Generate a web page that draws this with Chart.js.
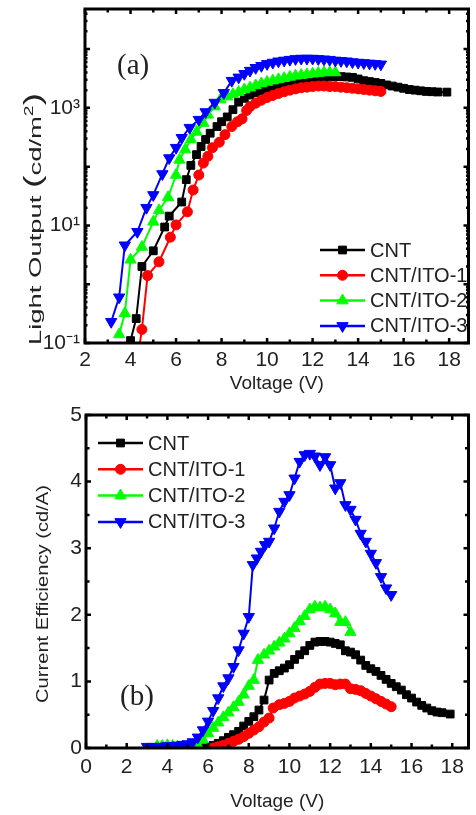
<!DOCTYPE html>
<html>
<head>
<meta charset="utf-8">
<script src="https://cdn.jsdelivr.net/npm/chart.js@4.4.1/dist/chart.umd.min.js"></script>
<style>
  body { margin: 0; background: #fff; width: 476px; height: 815px; overflow: hidden; position: relative; }
  canvas { position: absolute; left: 0; }
  #chartA { top: 0; }
  #chartB { top: 400px; }
</style>
</head>
<body>
<canvas id="chartA" width="476" height="400"></canvas>
<canvas id="chartB" width="476" height="415"></canvas>
<script>
// series names (same for both panels)
const seriesNames = ['CNT', 'CNT/ITO-1', 'CNT/ITO-2', 'CNT/ITO-3'];

// (a) light output, cd/m2
const voltA_cnt = [4.0, 4.25, 4.5, 5.0, 5.5, 5.7, 6.25, 6.45, 6.65, 6.9, 7.1, 7.3, 7.5, 7.8, 8.0, 8.25, 8.5, 8.75, 9.0, 9.25, 9.5, 9.75, 10.0, 10.25, 10.5, 10.75, 11.0, 11.25, 11.5, 11.75, 12.0, 12.25, 12.5, 12.75, 13.0, 13.25, 13.5, 13.75, 14.0, 14.25, 14.5, 14.75, 15.0, 15.25, 15.5, 15.75, 16.0, 16.25, 16.5, 16.75, 17.0, 17.25, 17.5, 17.9];
const lumA_cnt = [0.11, 0.26, 2.0, 3.7, 9.4, 14.4, 25, 60, 105, 160, 220, 290, 370, 480, 580, 700, 930, 1250, 1450, 1650, 1800, 1950, 2100, 2250, 2400, 2550, 2650, 2750, 2900, 3000, 3100, 3200, 3300, 3350, 3400, 3400, 3350, 3300, 3100, 2900, 2800, 2700, 2600, 2450, 2350, 2250, 2150, 2050, 2000, 1950, 1900, 1880, 1860, 1850];

const voltA_ito1 = [4.3, 4.5, 4.75, 5.25, 5.75, 6.0, 6.5, 6.75, 7.0, 7.2, 7.4, 7.6, 7.9, 8.15, 8.45, 8.7, 8.9, 9.1, 9.25, 9.5, 9.75, 10.0, 10.25, 10.5, 10.75, 11.0, 11.25, 11.5, 11.75, 12.0, 12.25, 12.5, 12.75, 13.0, 13.25, 13.5, 13.75, 14.0, 14.25, 14.5, 14.75, 15.0];
const lumA_ito1 = [0.05, 0.17, 1.4, 2.4, 6.3, 10.2, 17, 40, 72, 115, 150, 210, 260, 350, 480, 580, 650, 900, 1050, 1200, 1350, 1500, 1620, 1750, 1880, 2000, 2100, 2200, 2250, 2300, 2350, 2350, 2300, 2300, 2250, 2200, 2150, 2100, 2050, 2000, 1950, 1900];

const voltA_ito2 = [3.5, 3.75, 4.0, 4.5, 5.0, 5.25, 5.65, 6.0, 6.15, 6.4, 6.65, 6.9, 7.2, 7.4, 7.7, 7.95, 8.25, 8.5, 8.75, 9.0, 9.25, 9.5, 9.75, 10.0, 10.25, 10.5, 10.75, 11.0, 11.25, 11.5, 11.75, 12.0, 12.25, 12.5, 12.75, 13.0];
const lumA_ito2 = [0.14, 0.32, 2.6, 4.3, 11.5, 18, 30, 72, 130, 195, 290, 390, 550, 760, 1050, 1380, 1550, 1700, 1850, 2050, 2200, 2400, 2600, 2750, 2900, 3050, 3200, 3350, 3500, 3600, 3700, 3800, 3900, 4000, 4000, 4000];

const voltA_ito3 = [3.15, 3.5, 3.75, 4.3, 4.7, 5.0, 5.4, 5.7, 6.0, 6.25, 6.6, 7.0, 7.3, 7.7, 8.1, 8.45, 8.75, 9.0, 9.25, 9.5, 9.75, 10.0, 10.25, 10.5, 10.75, 11.0, 11.25, 11.5, 11.75, 12.0, 12.25, 12.5, 12.75, 13.0, 13.25, 13.5, 13.75, 14.0, 14.25, 14.5, 14.75, 15.0];
const lumA_ito3 = [0.23, 0.6, 4.6, 7.8, 20, 33, 75, 140, 210, 310, 460, 630, 850, 1230, 1800, 2900, 3300, 3800, 4300, 4800, 5200, 5600, 5900, 6200, 6400, 6600, 6800, 6900, 6900, 6900, 6800, 6700, 6600, 6400, 6300, 6200, 6000, 5900, 5800, 5700, 5600, 5500];

// (b) current efficiency, cd/A
const voltB_cnt = [5.5, 5.75, 6.0, 6.25, 6.5, 6.75, 7.0, 7.25, 7.5, 7.75, 8.0, 8.25, 8.5, 8.75, 9.0, 9.25, 9.5, 9.75, 10.0, 10.25, 10.5, 10.75, 11.0, 11.25, 11.5, 11.75, 12.0, 12.25, 12.5, 12.75, 13.0, 13.25, 13.5, 13.75, 14.0, 14.25, 14.5, 14.75, 15.0, 15.25, 15.5, 15.75, 16.0, 16.25, 16.5, 16.75, 17.0, 17.25, 17.5, 17.9];
const effB_cnt = [0.0, 0.01, 0.02, 0.04, 0.07, 0.11, 0.16, 0.20, 0.25, 0.33, 0.40, 0.47, 0.57, 0.72, 1.02, 1.12, 1.16, 1.20, 1.25, 1.33, 1.40, 1.46, 1.54, 1.59, 1.60, 1.60, 1.59, 1.57, 1.55, 1.46, 1.44, 1.40, 1.32, 1.24, 1.19, 1.15, 1.09, 1.03, 0.97, 0.92, 0.87, 0.80, 0.75, 0.69, 0.64, 0.60, 0.56, 0.54, 0.53, 0.51];

const voltB_ito1 = [6.25, 6.5, 6.75, 7.0, 7.25, 7.5, 7.75, 8.0, 8.25, 8.5, 8.75, 9.0, 9.2, 9.5, 9.75, 10.0, 10.25, 10.5, 10.75, 11.0, 11.25, 11.5, 11.75, 12.0, 12.25, 12.5, 12.75, 13.0, 13.25, 13.5, 13.75, 14.0, 14.25, 14.5, 14.75, 15.0];
const effB_ito1 = [0.0, 0.02, 0.04, 0.07, 0.10, 0.13, 0.17, 0.22, 0.27, 0.32, 0.39, 0.45, 0.60, 0.65, 0.67, 0.70, 0.75, 0.78, 0.81, 0.85, 0.91, 0.96, 0.97, 0.97, 0.95, 0.96, 0.96, 0.89, 0.88, 0.86, 0.82, 0.78, 0.74, 0.70, 0.66, 0.62];

const voltB_ito2 = [3.5, 3.75, 4.0, 4.25, 4.5, 4.75, 5.0, 5.25, 5.5, 5.75, 6.0, 6.25, 6.5, 6.75, 7.0, 7.25, 7.5, 7.75, 8.0, 8.25, 8.45, 8.75, 9.0, 9.25, 9.5, 9.75, 10.0, 10.25, 10.5, 10.75, 11.0, 11.25, 11.5, 11.75, 12.0, 12.25, 12.5, 12.75, 13.0];
const effB_ito2 = [0.03, 0.03, 0.04, 0.03, 0.02, 0.02, 0.02, 0.02, 0.04, 0.12, 0.22, 0.30, 0.38, 0.46, 0.53, 0.61, 0.69, 0.80, 0.93, 1.02, 1.32, 1.40, 1.46, 1.52, 1.58, 1.64, 1.72, 1.80, 1.90, 1.98, 2.08, 2.12, 2.11, 2.12, 2.08, 2.02, 1.89, 1.89, 1.74];

const voltB_ito3 = [3.0, 3.25, 3.5, 3.75, 4.0, 4.25, 4.5, 4.75, 5.0, 5.25, 5.5, 5.75, 6.0, 6.25, 6.5, 6.75, 7.0, 7.25, 7.5, 7.75, 8.0, 8.2, 8.4, 8.6, 8.8, 9.0, 9.25, 9.5, 9.75, 10.0, 10.25, 10.5, 10.75, 11.0, 11.25, 11.5, 11.75, 12.0, 12.25, 12.5, 12.75, 13.0, 13.25, 13.5, 13.75, 14.0, 14.25, 14.5, 14.75, 15.0];
const effB_ito3 = [0.02, 0.02, 0.02, 0.02, 0.03, 0.03, 0.04, 0.05, 0.06, 0.09, 0.16, 0.27, 0.40, 0.56, 0.75, 0.93, 1.05, 1.22, 1.47, 1.72, 1.97, 2.75, 2.85, 2.95, 3.05, 3.10, 3.30, 3.55, 3.70, 3.80, 4.05, 4.30, 4.40, 4.42, 4.38, 4.25, 4.37, 4.25, 3.90, 3.98, 3.65, 3.58, 3.43, 3.22, 3.10, 2.92, 2.78, 2.57, 2.40, 2.30];

// axis ticks
const voltTicksA = [2, 4, 6, 8, 10, 12, 14, 16, 18];
const voltTicksB = [0, 2, 4, 6, 8, 10, 12, 14, 16, 18];
const lumTickValues = [0.1, 10, 1000];
const lumTickLabels = ['10\u207B\u00B9', '10\u00B9', '10\u00B3'];

// look of each series
const seriesStyle = [
  { color: '#000000', pointStyle: 'rect', rotation: 0, radius: 5.5 },
  { color: '#ff0000', pointStyle: 'circle', rotation: 0, radius: 5 },
  { color: '#00ff00', pointStyle: 'triangle', rotation: 0, radius: 6.5 },
  { color: '#0000ff', pointStyle: 'triangle', rotation: 180, radius: 6.5 }
];

Chart.defaults.font.family = "'Liberation Sans', Arial, sans-serif";
Chart.defaults.color = '#222';

function buildSets(pairs) {
  return pairs.map((p, i) => {
    const st = seriesStyle[i];
    return {
      label: seriesNames[i],
      data: p[0].map((v, k) => ({ x: v, y: p[1][k] })),
      borderColor: st.color,
      backgroundColor: st.color,
      pointBackgroundColor: st.color,
      pointBorderColor: st.color,
      pointBorderWidth: 1,
      pointStyle: st.pointStyle,
      pointRotation: st.rotation,
      pointRadius: st.radius,
      borderWidth: 2,
      tension: 0,
      order: 4 - i
    };
  });
}

function fixedTicks(values) {
  return s => { s.ticks = values.map(v => ({ value: v })); };
}
// fixed axis box, no extra room for half labels at the ends
function noPad(size, key) {
  return s => {
    s[key] = size;
    s.paddingTop = 0; s.paddingBottom = 0; s.paddingLeft = 0; s.paddingRight = 0;
  };
}

// frame box with inward ticks on all four sides
const frameTicks = {
  id: 'frameTicks',
  afterDraw(chart, args, opts) {
    const { ctx, chartArea: a } = chart;
    const x = chart.scales.x, y = chart.scales.y;
    ctx.save();
    ctx.strokeStyle = '#000';
    ctx.lineWidth = 2.5;
    ctx.beginPath();
    for (let v = Math.ceil(x.min); v <= x.max; v += 1) {
      const px = x.getPixelForValue(v);
      const len = v % 2 === 0 ? 5 : 3.5;
      ctx.moveTo(px, a.bottom); ctx.lineTo(px, a.bottom - len);
      ctx.moveTo(px, a.top); ctx.lineTo(px, a.top + len);
    }
    const yTicks = [];
    if (opts.log) {
      for (let e = -1; e <= 4; e++) {
        yTicks.push({ v: Math.pow(10, e), len: 5 });
        for (let m = 2; m <= 9; m++) yTicks.push({ v: m * Math.pow(10, e), len: 2.5 });
      }
    } else {
      for (let v = 0; v <= y.max; v += 0.5) yTicks.push({ v: v, len: v % 1 === 0 ? 5 : 3.5 });
    }
    yTicks.forEach(t => {
      if (t.v < y.min || t.v > y.max) return;
      const py = y.getPixelForValue(t.v);
      ctx.moveTo(a.left, py); ctx.lineTo(a.left + t.len, py);
      ctx.moveTo(a.right, py); ctx.lineTo(a.right - t.len, py);
    });
    ctx.stroke();
    ctx.lineWidth = 3;
    ctx.strokeRect(a.left, a.top, a.right - a.left, a.bottom - a.top);
    ctx.restore();
  }
};

// legend with line + marker, panel label, stretched y title
const decorations = {
  id: 'decorations',
  afterDraw(chart, args, opts) {
    const ctx = chart.ctx;
    ctx.save();
    chart.data.datasets.forEach((ds, i) => {
      const yy = opts.legendY + i * opts.legendGap;
      ctx.strokeStyle = ds.borderColor;
      ctx.fillStyle = ds.borderColor;
      ctx.lineWidth = 2.5;
      ctx.beginPath();
      ctx.moveTo(opts.legendX, yy);
      ctx.lineTo(opts.legendX + 45, yy);
      ctx.stroke();
      ctx.lineWidth = 1;
      Chart.helpers.drawPoint(ctx, { pointStyle: ds.pointStyle, rotation: ds.pointRotation, radius: ds.pointRadius, borderWidth: 1 }, opts.legendX + 22.5, yy);
      ctx.fillStyle = '#222';
      ctx.font = "20px 'Liberation Sans', Arial, sans-serif";
      ctx.textBaseline = 'middle';
      ctx.textAlign = 'left';
      ctx.fillText(ds.label, opts.legendX + 50, yy + 1);
    });

    ctx.fillStyle = '#222';
    ctx.font = "29px 'Liberation Serif', 'Times New Roman', serif";
    ctx.textBaseline = 'middle';
    ctx.fillText(opts.panel, opts.panelX, opts.panelY);

    // y axis title, stretched along its length
    ctx.translate(opts.titleX, opts.titleY);
    ctx.rotate(-Math.PI / 2);
    ctx.textBaseline = 'alphabetic';
    let total = 0;
    opts.titleParts.forEach(p => {
      ctx.font = p.size + "px 'Liberation Sans', Arial, sans-serif";
      p.w = ctx.measureText(p.text).width;
      total += p.w;
    });
    const sx = opts.titleLen / total;
    let cur = -opts.titleLen / 2;
    opts.titleParts.forEach(p => {
      ctx.font = p.size + "px 'Liberation Sans', Arial, sans-serif";
      ctx.save();
      ctx.translate(cur, -(p.rise || 0));
      ctx.scale(sx, 1);
      ctx.fillText(p.text, 0, 0);
      ctx.restore();
      cur += p.w * sx;
    });
    ctx.restore();
  }
};

const tickFont = { size: 21 };
const titleFont = { size: 19 };

// panel (a)
new Chart(document.getElementById('chartA'), {
  type: 'line',
  data: {
    datasets: buildSets([
      [voltA_cnt, lumA_cnt],
      [voltA_ito1, lumA_ito1],
      [voltA_ito2, lumA_ito2],
      [voltA_ito3, lumA_ito3]
    ])
  },
  options: {
    responsive: false,
    animation: false,
    devicePixelRatio: 1,
    layout: { padding: { top: 9, right: 1, left: 0, bottom: 0 } },
    plugins: {
      legend: { display: false },
      tooltip: { enabled: false },
      frameTicks: { log: true },
      decorations: {
        legendX: 320, legendY: 250, legendGap: 25.3,
        panel: '(a)', panelX: 117, panelY: 66,
        titleX: 41, titleY: 219, titleLen: 252,
        titleParts: [
          { text: 'Light Output ', size: 17 },
          { text: '(', size: 23 },
          { text: 'cd/m', size: 17 },
          { text: '2', size: 12, rise: 8 },
          { text: ')', size: 23 }
        ]
      }
    },
    scales: {
      x: {
        type: 'linear', min: 2, max: 18.85,
        afterFit: noPad(57, 'height'),
        afterBuildTicks: fixedTicks(voltTicksA),
        grid: { display: false, drawTicks: false },
        border: { display: false },
        ticks: { padding: 5, font: tickFont, color: '#222', maxRotation: 0, autoSkip: false },
        title: { display: true, text: 'Voltage (V)', font: titleFont, color: '#222', padding: { top: 0, bottom: 5 } }
      },
      y: {
        type: 'logarithmic', min: 0.1, max: 48000,
        afterFit: noPad(85, 'width'),
        afterBuildTicks: fixedTicks(lumTickValues),
        grid: { display: false, drawTicks: false },
        border: { display: false },
        ticks: {
          padding: 5, font: tickFont, color: '#222', autoSkip: false,
          callback: v => lumTickLabels[lumTickValues.indexOf(v)]
        }
      }
    }
  },
  plugins: [frameTicks, decorations]
});

// panel (b)
new Chart(document.getElementById('chartB'), {
  type: 'line',
  data: {
    datasets: buildSets([
      [voltB_cnt, effB_cnt],
      [voltB_ito1, effB_ito1],
      [voltB_ito2, effB_ito2],
      [voltB_ito3, effB_ito3]
    ])
  },
  options: {
    responsive: false,
    animation: false,
    devicePixelRatio: 1,
    layout: { padding: { top: 15, right: 1, left: 0, bottom: 0 } },
    plugins: {
      legend: { display: false },
      tooltip: { enabled: false },
      frameTicks: { log: false },
      decorations: {
        legendX: 98, legendY: 43, legendGap: 26.3,
        panel: '(b)', panelX: 120, panelY: 297,
        titleX: 48, titleY: 194, titleLen: 218,
        titleParts: [
          { text: 'Current Efficiency (cd/A)', size: 17 }
        ]
      }
    },
    scales: {
      x: {
        type: 'linear', min: 0, max: 18.8,
        afterFit: noPad(67, 'height'),
        afterBuildTicks: fixedTicks(voltTicksB),
        grid: { display: false, drawTicks: false },
        border: { display: false },
        ticks: { padding: 7, font: tickFont, color: '#222', maxRotation: 0, autoSkip: false },
        title: { display: true, text: 'Voltage (V)', font: titleFont, color: '#222', padding: { top: 0, bottom: 2 } }
      },
      y: {
        type: 'linear', min: 0, max: 5,
        afterFit: noPad(86, 'width'),
        grid: { display: false, drawTicks: false },
        border: { display: false },
        ticks: { stepSize: 1, padding: 4, font: tickFont, color: '#222' }
      }
    }
  },
  plugins: [frameTicks, decorations]
});
</script>
</body>
</html>
